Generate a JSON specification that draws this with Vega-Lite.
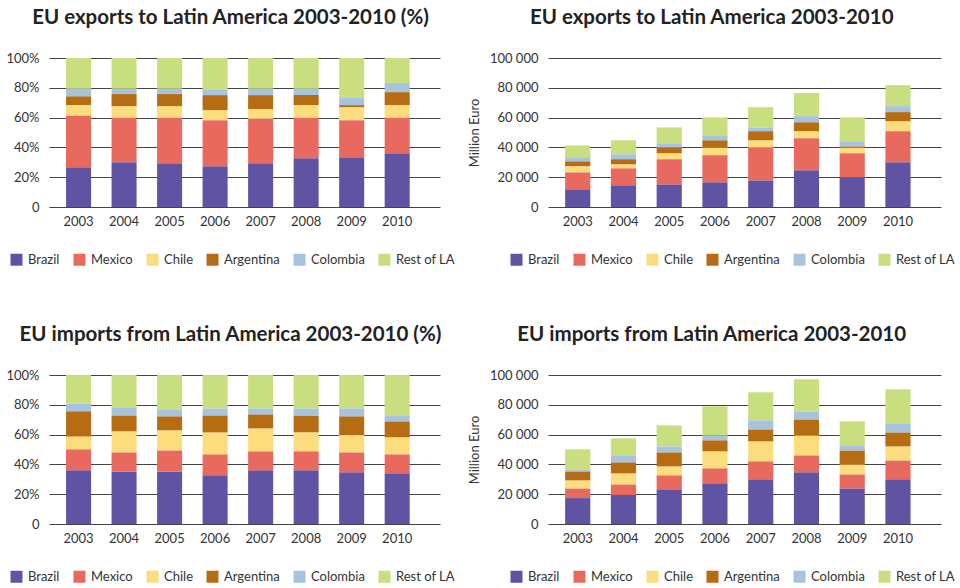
{
  "$schema": "https://vega.github.io/schema/vega-lite/v6.json",
  "background": "white",
  "padding": {"left": 5, "top": 7, "right": 5, "bottom": 5},
  "datasets": {
    "trade": [
      {"panel": "exp_pct", "year": "2003", "Brazil": 26.7, "Mexico": 34.7, "Chile": 7.0, "Argentina": 6.0, "Colombia": 5.0, "Rest of LA": 20.6},
      {"panel": "exp_pct", "year": "2004", "Brazil": 30.0, "Mexico": 30.1, "Chile": 7.6, "Argentina": 8.1, "Colombia": 3.6, "Rest of LA": 20.6},
      {"panel": "exp_pct", "year": "2005", "Brazil": 29.4, "Mexico": 30.7, "Chile": 7.6, "Argentina": 8.1, "Colombia": 3.6, "Rest of LA": 20.6},
      {"panel": "exp_pct", "year": "2006", "Brazil": 27.4, "Mexico": 30.9, "Chile": 6.7, "Argentina": 10.1, "Colombia": 3.4, "Rest of LA": 21.5},
      {"panel": "exp_pct", "year": "2007", "Brazil": 29.4, "Mexico": 29.8, "Chile": 6.5, "Argentina": 9.4, "Colombia": 4.3, "Rest of LA": 20.6},
      {"panel": "exp_pct", "year": "2008", "Brazil": 32.7, "Mexico": 27.4, "Chile": 8.3, "Argentina": 6.7, "Colombia": 4.3, "Rest of LA": 20.6},
      {"panel": "exp_pct", "year": "2009", "Brazil": 33.4, "Mexico": 24.9, "Chile": 8.7, "Argentina": 1.4, "Colombia": 4.7, "Rest of LA": 26.9},
      {"panel": "exp_pct", "year": "2010", "Brazil": 36.1, "Mexico": 24.0, "Chile": 8.3, "Argentina": 8.7, "Colombia": 6.1, "Rest of LA": 16.8},
      {"panel": "exp_val", "year": "2003", "Brazil": 11900, "Mexico": 11400, "Chile": 4100, "Argentina": 3300, "Colombia": 2700, "Rest of LA": 7900},
      {"panel": "exp_val", "year": "2004", "Brazil": 14600, "Mexico": 11400, "Chile": 2700, "Argentina": 3400, "Colombia": 3300, "Rest of LA": 9400},
      {"panel": "exp_val", "year": "2005", "Brazil": 15200, "Mexico": 16900, "Chile": 4000, "Argentina": 3800, "Colombia": 2900, "Rest of LA": 10600},
      {"panel": "exp_val", "year": "2006", "Brazil": 16600, "Mexico": 18200, "Chile": 5100, "Argentina": 4900, "Colombia": 3400, "Rest of LA": 11900},
      {"panel": "exp_val", "year": "2007", "Brazil": 17900, "Mexico": 22000, "Chile": 4900, "Argentina": 6100, "Colombia": 2500, "Rest of LA": 13600},
      {"panel": "exp_val", "year": "2008", "Brazil": 24700, "Mexico": 21500, "Chile": 4700, "Argentina": 6000, "Colombia": 4100, "Rest of LA": 15500},
      {"panel": "exp_val", "year": "2009", "Brazil": 20000, "Mexico": 16100, "Chile": 3800, "Argentina": 800, "Colombia": 3500, "Rest of LA": 15900},
      {"panel": "exp_val", "year": "2010", "Brazil": 30000, "Mexico": 20900, "Chile": 6700, "Argentina": 6100, "Colombia": 4000, "Rest of LA": 14100},
      {"panel": "imp_pct", "year": "2003", "Brazil": 36.0, "Mexico": 14.1, "Chile": 8.7, "Argentina": 16.8, "Colombia": 5.2, "Rest of LA": 19.2},
      {"panel": "imp_pct", "year": "2004", "Brazil": 35.3, "Mexico": 12.8, "Chile": 14.1, "Argentina": 10.7, "Colombia": 5.4, "Rest of LA": 21.7},
      {"panel": "imp_pct", "year": "2005", "Brazil": 35.3, "Mexico": 14.1, "Chile": 13.5, "Argentina": 9.4, "Colombia": 4.7, "Rest of LA": 23.0},
      {"panel": "imp_pct", "year": "2006", "Brazil": 32.7, "Mexico": 14.1, "Chile": 14.7, "Argentina": 11.4, "Colombia": 4.7, "Rest of LA": 22.4},
      {"panel": "imp_pct", "year": "2007", "Brazil": 36.0, "Mexico": 12.8, "Chile": 15.4, "Argentina": 9.4, "Colombia": 4.0, "Rest of LA": 22.4},
      {"panel": "imp_pct", "year": "2008", "Brazil": 36.0, "Mexico": 12.8, "Chile": 12.7, "Argentina": 11.4, "Colombia": 4.7, "Rest of LA": 22.4},
      {"panel": "imp_pct", "year": "2009", "Brazil": 34.7, "Mexico": 13.4, "Chile": 11.6, "Argentina": 12.6, "Colombia": 5.3, "Rest of LA": 22.4},
      {"panel": "imp_pct", "year": "2010", "Brazil": 34.0, "Mexico": 12.8, "Chile": 11.4, "Argentina": 10.7, "Colombia": 4.0, "Rest of LA": 27.1},
      {"panel": "imp_val", "year": "2003", "Brazil": 17400, "Mexico": 6500, "Chile": 5400, "Argentina": 6000, "Colombia": 1400, "Rest of LA": 13400},
      {"panel": "imp_val", "year": "2004", "Brazil": 19500, "Mexico": 7100, "Chile": 7400, "Argentina": 7400, "Colombia": 4700, "Rest of LA": 11400},
      {"panel": "imp_val", "year": "2005", "Brazil": 23300, "Mexico": 9400, "Chile": 6000, "Argentina": 9400, "Colombia": 4000, "Rest of LA": 14100},
      {"panel": "imp_val", "year": "2006", "Brazil": 27300, "Mexico": 10100, "Chile": 11400, "Argentina": 7400, "Colombia": 3300, "Rest of LA": 19500},
      {"panel": "imp_val", "year": "2007", "Brazil": 30000, "Mexico": 12100, "Chile": 13400, "Argentina": 8000, "Colombia": 6100, "Rest of LA": 18800},
      {"panel": "imp_val", "year": "2008", "Brazil": 34700, "Mexico": 11400, "Chile": 13400, "Argentina": 10700, "Colombia": 5400, "Rest of LA": 21500},
      {"panel": "imp_val", "year": "2009", "Brazil": 23900, "Mexico": 9400, "Chile": 6700, "Argentina": 9400, "Colombia": 3400, "Rest of LA": 16100},
      {"panel": "imp_val", "year": "2010", "Brazil": 30000, "Mexico": 12700, "Chile": 9400, "Argentina": 9400, "Colombia": 6100, "Rest of LA": 22800}
    ]
  },
  "config": {
    "font": "Lato",
    "view": {"stroke": null},
    "axis": {"labelFont": "Lato", "labelFontSize": 13, "labelColor": "#333", "domain": false, "ticks": false, "gridColor": "#444", "gridWidth": 1, "gridOpacity": 1, "zindex": 1, "titleFont": "Lato", "titleFontSize": 13, "titleFontWeight": "normal", "titleColor": "#333"},
    "title": {"font": "Lato", "fontSize": 20.5, "fontWeight": "bold", "color": "#222", "anchor": "middle", "frame": "bounds", "offset": 24},
    "legend": {"orient": "none", "legendX": -39, "legendY": 195, "direction": "horizontal", "title": null, "symbolType": "square", "symbolSize": 144, "symbolStrokeWidth": 0, "symbolOpacity": 1, "labelFont": "Lato", "labelFontSize": 13, "labelColor": "#333", "labelOffset": 5, "columnPadding": 13}
  },
  "resolve": {"scale": {"color": "independent"}, "legend": {"color": "independent"}},
  "spacing": 57,
  "vconcat": [
    {
      "resolve": {"scale": {"color": "independent"}, "legend": {"color": "independent"}},
      "spacing": 13,
      "hconcat": [
        {
          "width": 391, "height": 149,
          "title": "EU exports to Latin America 2003-2010 (%)",
          "data": {"name": "trade"},
          "transform": [{"filter": "datum.panel == 'exp_pct'"}, {"fold": ["Brazil", "Mexico", "Chile", "Argentina", "Colombia", "Rest of LA"], "as": ["country", "value"]}, {"window": [{"op": "row_number", "as": "rank"}], "groupby": ["year"]}],
          "mark": {"type": "bar"},
          "encoding": {
            "x": {"field": "year", "type": "ordinal", "title": null, "scale": {"paddingInner": 0.45, "paddingOuter": 0.52, "align": 0.36}, "axis": {"labelAngle": 0, "grid": false, "labelPadding": 8}},
            "y": {"field": "value", "type": "quantitative", "stack": "zero", "title": null, "scale": {"domain": [0, 100], "nice": false}, "axis": {"values": [0, 20, 40, 60, 80, 100], "labelExpr": "datum.value == 0 ? '0' : datum.value + '%'", "labelPadding": 10}},
            "order": {"field": "rank", "type": "quantitative"},
            "color": {"field": "country", "type": "nominal", "sort": ["Brazil", "Mexico", "Chile", "Argentina", "Colombia", "Rest of LA"], "scale": {"domain": ["Brazil", "Mexico", "Chile", "Argentina", "Colombia", "Rest of LA"], "range": ["#6153a4", "#e8695e", "#fbdd7d", "#b66c12", "#a6c4de", "#c8de7f"]}}
          }
        },
        {
          "width": 393, "height": 149,
          "title": "EU exports to Latin America 2003-2010",
          "data": {"name": "trade"},
          "transform": [{"filter": "datum.panel == 'exp_val'"}, {"fold": ["Brazil", "Mexico", "Chile", "Argentina", "Colombia", "Rest of LA"], "as": ["country", "value"]}, {"window": [{"op": "row_number", "as": "rank"}], "groupby": ["year"]}],
          "mark": {"type": "bar"},
          "encoding": {
            "x": {"field": "year", "type": "ordinal", "title": null, "scale": {"paddingInner": 0.45, "paddingOuter": 0.52, "align": 0.36}, "axis": {"labelAngle": 0, "grid": false, "labelPadding": 8}},
            "y": {"field": "value", "type": "quantitative", "stack": "zero", "title": "Million Euro", "scale": {"domain": [0, 100000], "nice": false}, "axis": {"values": [0, 20000, 40000, 60000, 80000, 100000], "labelExpr": "replace(format(datum.value, ',d'), ',', ' ')", "labelPadding": 10, "titlePadding": 8}},
            "order": {"field": "rank", "type": "quantitative"},
            "color": {"field": "country", "type": "nominal", "sort": ["Brazil", "Mexico", "Chile", "Argentina", "Colombia", "Rest of LA"], "scale": {"domain": ["Brazil", "Mexico", "Chile", "Argentina", "Colombia", "Rest of LA"], "range": ["#6153a4", "#e8695e", "#fbdd7d", "#b66c12", "#a6c4de", "#c8de7f"]}, "legend": {"legendX": -38}}
          }
        }
      ]
    },
    {
      "resolve": {"scale": {"color": "independent"}, "legend": {"color": "independent"}},
      "spacing": 13,
      "hconcat": [
        {
          "width": 391, "height": 149,
          "title": "EU imports from Latin America 2003-2010 (%)",
          "data": {"name": "trade"},
          "transform": [{"filter": "datum.panel == 'imp_pct'"}, {"fold": ["Brazil", "Mexico", "Chile", "Argentina", "Colombia", "Rest of LA"], "as": ["country", "value"]}, {"window": [{"op": "row_number", "as": "rank"}], "groupby": ["year"]}],
          "mark": {"type": "bar"},
          "encoding": {
            "x": {"field": "year", "type": "ordinal", "title": null, "scale": {"paddingInner": 0.45, "paddingOuter": 0.52, "align": 0.36}, "axis": {"labelAngle": 0, "grid": false, "labelPadding": 8}},
            "y": {"field": "value", "type": "quantitative", "stack": "zero", "title": null, "scale": {"domain": [0, 100], "nice": false}, "axis": {"values": [0, 20, 40, 60, 80, 100], "labelExpr": "datum.value == 0 ? '0' : datum.value + '%'", "labelPadding": 10}},
            "order": {"field": "rank", "type": "quantitative"},
            "color": {"field": "country", "type": "nominal", "sort": ["Brazil", "Mexico", "Chile", "Argentina", "Colombia", "Rest of LA"], "scale": {"domain": ["Brazil", "Mexico", "Chile", "Argentina", "Colombia", "Rest of LA"], "range": ["#6153a4", "#e8695e", "#fbdd7d", "#b66c12", "#a6c4de", "#c8de7f"]}}
          }
        },
        {
          "width": 393, "height": 149,
          "title": "EU imports from Latin America 2003-2010",
          "data": {"name": "trade"},
          "transform": [{"filter": "datum.panel == 'imp_val'"}, {"fold": ["Brazil", "Mexico", "Chile", "Argentina", "Colombia", "Rest of LA"], "as": ["country", "value"]}, {"window": [{"op": "row_number", "as": "rank"}], "groupby": ["year"]}],
          "mark": {"type": "bar"},
          "encoding": {
            "x": {"field": "year", "type": "ordinal", "title": null, "scale": {"paddingInner": 0.45, "paddingOuter": 0.52, "align": 0.36}, "axis": {"labelAngle": 0, "grid": false, "labelPadding": 8}},
            "y": {"field": "value", "type": "quantitative", "stack": "zero", "title": "Million Euro", "scale": {"domain": [0, 100000], "nice": false}, "axis": {"values": [0, 20000, 40000, 60000, 80000, 100000], "labelExpr": "replace(format(datum.value, ',d'), ',', ' ')", "labelPadding": 10, "titlePadding": 8}},
            "order": {"field": "rank", "type": "quantitative"},
            "color": {"field": "country", "type": "nominal", "sort": ["Brazil", "Mexico", "Chile", "Argentina", "Colombia", "Rest of LA"], "scale": {"domain": ["Brazil", "Mexico", "Chile", "Argentina", "Colombia", "Rest of LA"], "range": ["#6153a4", "#e8695e", "#fbdd7d", "#b66c12", "#a6c4de", "#c8de7f"]}, "legend": {"legendX": -38}}
          }
        }
      ]
    }
  ]
}
